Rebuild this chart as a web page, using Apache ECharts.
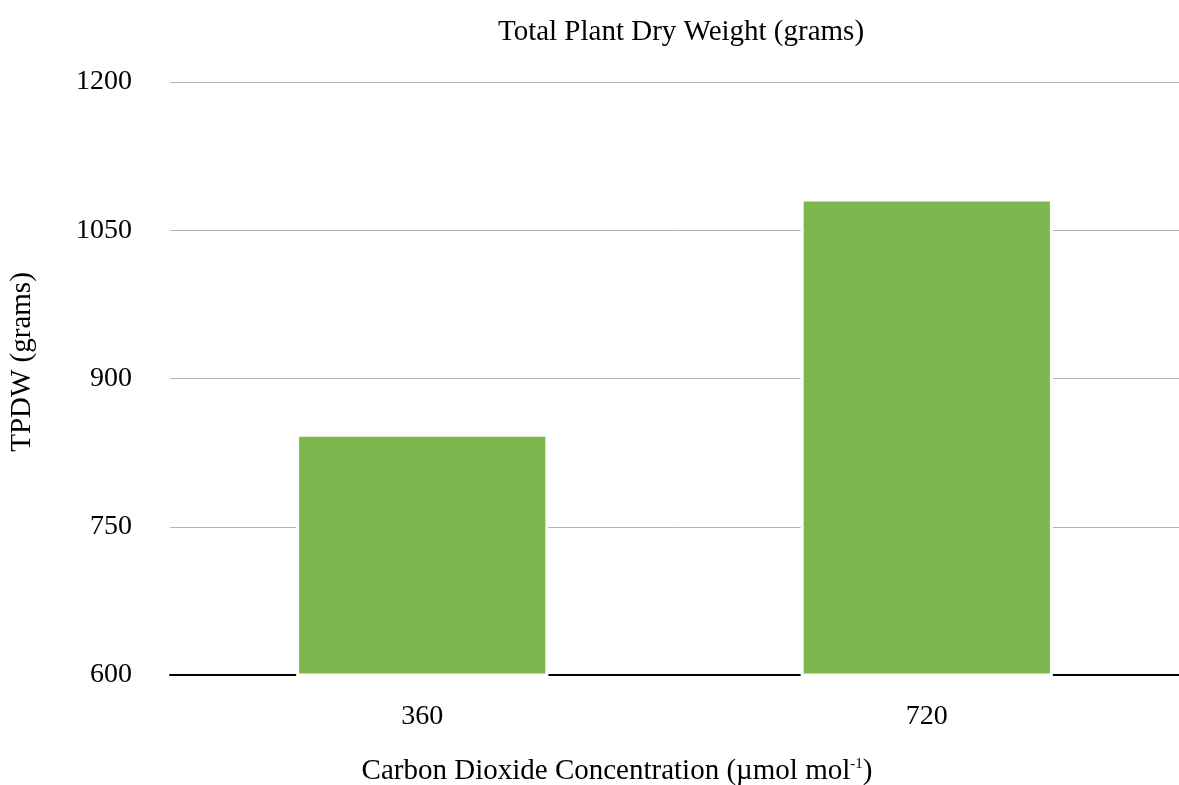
<!DOCTYPE html>
<html><head><meta charset="utf-8">
<script src="https://cdn.jsdelivr.net/npm/echarts@6/dist/echarts.min.js"></script>
<style>html,body{margin:0;padding:0;background:#fff}#c{width:1179px;height:785px}</style>
</head><body><div id="c"></div>
<script>
const categories = ['360', '720'];
const tpdw = [844, 1082];
const yTicks = { min: 600, max: 1200, interval: 150 };
const titleText = 'Total Plant Dry Weight (grams)';
const xNameMain = 'Carbon Dioxide Concentration (µmol mol';
const xNameSup = '-1';
const yName = 'TPDW (grams)';

const font = '"Liberation Serif", "DejaVu Serif", serif';
const chart = echarts.init(document.getElementById('c'));
chart.setOption({
  animation: false,
  title: [
    { text: titleText, left: 676, textAlign: 'center', top: 13, textStyle: { fontFamily: font, fontSize: 29, fontWeight: 'normal', color: '#000' } },
    { text: xNameMain + '{sup|' + xNameSup + '}' + ')', left: 612, textAlign: 'center', top: 752,
      textStyle: { fontFamily: font, fontSize: 29, fontWeight: 'normal', color: '#000',
        rich: { sup: { fontFamily: font, fontSize: 15, verticalAlign: 'top', padding: [0, 0, 12, 0], color: '#000' } } } }
  ],
  graphic: [{
    type: 'text', x: 22, y: 362, rotation: Math.PI / 2,
    style: { text: yName, font: '29px ' + font, fill: '#000', textAlign: 'center', textVerticalAlign: 'middle' }
  }],
  grid: { left: 170, right: 0, top: 82, bottom: 110 },
  xAxis: {
    type: 'category', data: categories,
    axisLine: { lineStyle: { color: '#000', width: 2 } },
    axisTick: { show: false },
    axisLabel: { fontFamily: font, fontSize: 28, color: '#000', margin: 28 }
  },
  yAxis: {
    type: 'value', min: yTicks.min, max: yTicks.max, interval: yTicks.interval,
    axisLine: { show: false }, axisTick: { show: false },
    axisLabel: { fontFamily: font, fontSize: 28, color: '#000', margin: 38, formatter: v => String(v) },
    splitLine: { lineStyle: { color: '#b3b3b3', width: 1 } }
  },
  series: [{
    type: 'bar', data: tpdw, barWidth: '50%',
    itemStyle: { color: '#7ab74c', borderColor: '#fff', borderWidth: 3 }
  }]
});
</script></body></html>
